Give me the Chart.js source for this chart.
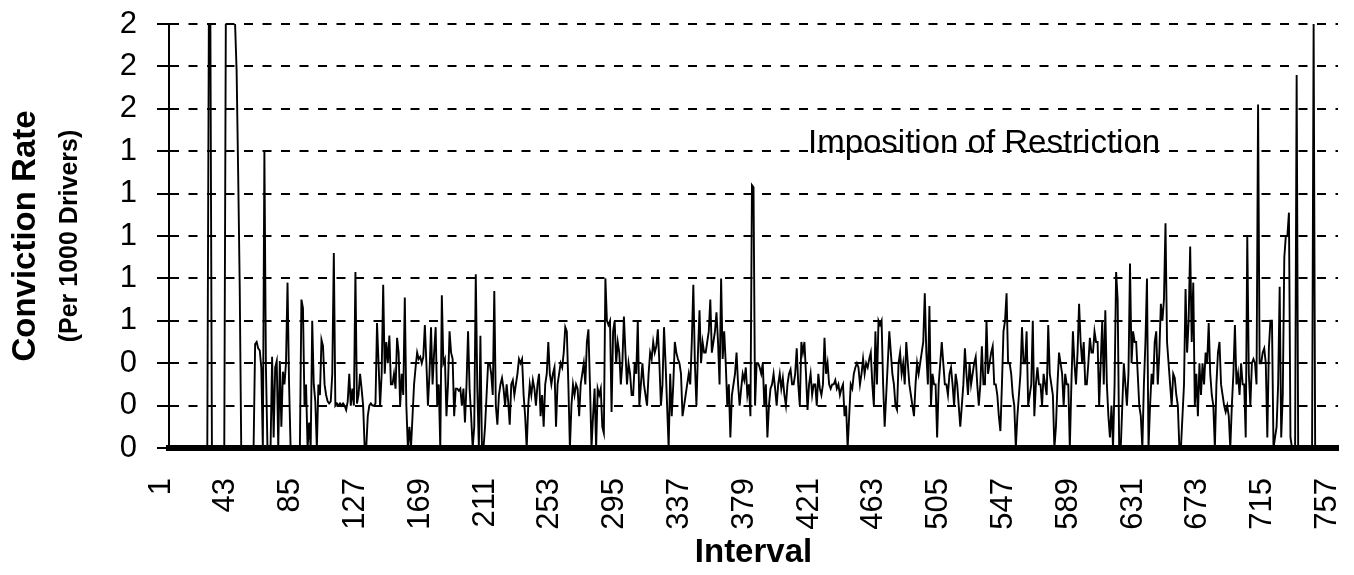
<!DOCTYPE html>
<html>
<head>
<meta charset="utf-8">
<script src="https://cdn.jsdelivr.net/npm/chart.js@4"></script>
<style>
  html, body { margin: 0; padding: 0; background: #fff; }
  canvas { display: block; }
</style>
</head>
<body>
<canvas id="c" width="1354" height="575"></canvas>
<script>
// ---- data ----
const firstInterval = 1;
const xTickLabels = [1, 43, 85, 127, 169, 211, 253, 295, 337, 379, 421, 463, 505, 547, 589, 631, 673, 715, 757];
const yTickValues = [0, 0.2, 0.4, 0.6, 0.8, 1.0, 1.2, 1.4, 1.6, 1.8, 2.0];
const yTickLabels = ['0', '0', '0', '1', '1', '1', '1', '1', '2', '2', '2'];
const convictionRates = [
  0,0,0,0,0,0,0,0,0,0,
  0,0,0,0,0,0,0,0,0,0,
  0,0,0,0,0,0,0,0,0,0,
  0,2,2,0,0,0,0,0,0,0,
  0,0,2,2,2,2,2,2,2,1.78,
  1.3,0.77,0,0,0,0,0,0,0,0,
  0,0.49,0.5,0.47,0.46,0.38,0,1.4,0.38,0,
  0,0,0.43,0.05,0.38,0.41,0,0.41,0.1,0.36,
  0.3,0.4,0.78,0.3,0,0,0,0,0,0,
  0,0.7,0.66,0.2,0.3,0,0.12,0,0.6,0.3,
  0.22,0,0.3,0.25,0.51,0.48,0.3,0.25,0.22,0.21,
  0.22,0.35,0.92,0.2,0.21,0.2,0.21,0.2,0.21,0.2,
  0.18,0.22,0.35,0.2,0.28,0.2,0.83,0.21,0.25,0.35,
  0.28,0.2,0,0,0.15,0.2,0.21,0.2,0.2,0.21,
  0.59,0.4,0.2,0.35,0.77,0.35,0.5,0.4,0.53,0.3,
  0.3,0.35,0.28,0.52,0.45,0.2,0.35,0.25,0.71,0.2,
  0,0.1,0,0.15,0.3,0.38,0.45,0.42,0.43,0.4,
  0.43,0.58,0.4,0.2,0.35,0.57,0.3,0.45,0.57,0.2,
  0.3,0,0.72,0.4,0.42,0.15,0.3,0.55,0.45,0.42,
  0.15,0.28,0.28,0.27,0.28,0.2,0.28,0.12,0.3,0.55,
  0.28,0.15,0,0.1,0.82,0.28,0,0.53,0,0,
  0.1,0.25,0.4,0.4,0.35,0.25,0.74,0.2,0.11,0.25,
  0.3,0.33,0.28,0.2,0.3,0.22,0.11,0.3,0.32,0.25,
  0.3,0.35,0.42,0.4,0.42,0.25,0.15,0,0.2,0.3,
  0.25,0.32,0.28,0.2,0.3,0.35,0.15,0.25,0.1,0.3,
  0.35,0.5,0.35,0.3,0.35,0.38,0.1,0.3,0.35,0.4,
  0.38,0.45,0.57,0.55,0.3,0,0.2,0.3,0.25,0.3,
  0.28,0.15,0.3,0.35,0.4,0.3,0.5,0.56,0.3,0,
  0.15,0.28,0,0.28,0.25,0.28,0.1,0.07,0.8,0.6,
  0.58,0.6,0.17,0.55,0.6,0.4,0.5,0.45,0.3,0.4,
  0.62,0.45,0.3,0.4,0.35,0.25,0.25,0.4,0.35,0.6,
  0.2,0.3,0.4,0.3,0.25,0.2,0.35,0.45,0.42,0.5,
  0.45,0.48,0.56,0.4,0.2,0.3,0.57,0.4,0.2,0,
  0.35,0.15,0.3,0.5,0.45,0.42,0.4,0.35,0.15,0.2,
  0.25,0.3,0.35,0.3,0.5,0.77,0.4,0.2,0.45,0.65,
  0.4,0.5,0.45,0.45,0.5,0.55,0.7,0.45,0.5,0.55,
  0.64,0.5,0.3,0.8,0.42,0.55,0.4,0.2,0.3,0.05,
  0.25,0.3,0.35,0.45,0.3,0.2,0.28,0.35,0.32,0.38,
  0.25,0.3,0.15,1.24,1.23,0.2,0.4,0.4,0.38,0.35,
  0.4,0.2,0.3,0.05,0.2,0.28,0.3,0.35,0.28,0.2,
  0.3,0.35,0.28,0.33,0.25,0.2,0.3,0.35,0.37,0.3,
  0.3,0.35,0.47,0.3,0.2,0.5,0.45,0.5,0.35,0.18,
  0.3,0.35,0.25,0.3,0.3,0.2,0.35,0.28,0.25,0.3,
  0.52,0.35,0.4,0.3,0.28,0.3,0.3,0.32,0.28,0.3,
  0.25,0.28,0.3,0.15,0.2,0,0.15,0.3,0.28,0.35,
  0.38,0.4,0.38,0.3,0.35,0.42,0.35,0.4,0.38,0.42,
  0.45,0.3,0.2,0.55,0.3,0.6,0.58,0.6,0.3,0.1,
  0.25,0.4,0.55,0.45,0.35,0.3,0.2,0.18,0.4,0.45,
  0.35,0.4,0.3,0.5,0.4,0.3,0.25,0.2,0.15,0.3,
  0.4,0.35,0.4,0.45,0.5,0.73,0.45,0.3,0.67,0.2,
  0.35,0.3,0.3,0.05,0.3,0.4,0.5,0.4,0.3,0.3,
  0.25,0.35,0.38,0.3,0.2,0.35,0.3,0.2,0.1,0.2,
  0.3,0.47,0.35,0.25,0.4,0.3,0.35,0.4,0.43,0.3,
  0.2,0.3,0.48,0.3,0.3,0.6,0.35,0.4,0.45,0.48,
  0.3,0.3,0.25,0.15,0.08,0.3,0.55,0.6,0.73,0.4,
  0.4,0.35,0.25,0.2,0,0.15,0.25,0.35,0.57,0.4,
  0.4,0.55,0.2,0.25,0.3,0.6,0.15,0.3,0.38,0.3,
  0.3,0.2,0.35,0.3,0.25,0.58,0.35,0.3,0.25,0,
  0.1,0.3,0.45,0.4,0.35,0.2,0.35,0.3,0.3,0,
  0.3,0.55,0.4,0.3,0.45,0.68,0.5,0.4,0.5,0.3,
  0.3,0.4,0.52,0.45,0.45,0.55,0.5,0.5,0.2,0.4,
  0.6,0.3,0.65,0.3,0.15,0.05,0.2,0,0.3,0.83,
  0.7,0,0,0.2,0.4,0.3,0.2,0.35,0.87,0.4,
  0.55,0.5,0.5,0.35,0.2,0.15,0,0.3,0.5,0.8,
  0,0.2,0.35,0.3,0.5,0.55,0.3,0.45,0.68,0.6,
  0.7,1.06,0.5,0.4,0.3,0.2,0.35,0.33,0.25,0.2,
  0,0,0.15,0.3,0.75,0.45,0.6,0.95,0.5,0.78,
  0.2,0.35,0.15,0.4,0.25,0.4,0.3,0.45,0.4,0.59,
  0.35,0.25,0.2,0,0.3,0.45,0.5,0.3,0.25,0.2,
  0.17,0.2,0.15,0,0.2,0.35,0.58,0.3,0.35,0.25,
  0.4,0.3,0.3,0.05,1.0,0.35,0.2,0.4,0.42,0.4,
  0.3,1.62,0.4,0.4,0.45,0.47,0.4,0.05,0.47,0.6,
  0.6,0,0.05,0.1,0.3,0.76,0.05,0.25,0.9,1.0,
  1.0,1.11,0.05,0,0,0,1.76,0,0,0,
  0,0,0,0,0,0,0,2,0,0,
  0,0,0,0,0,0,0,0,0,0,
  0,0,0
];
const noteText = 'Imposition of Restriction';

// ---- chart ----
Chart.defaults.font.family = "'Liberation Sans', Arial, sans-serif";
Chart.defaults.color = '#000';

const notePlugin = {
  id: 'restrictionNote',
  afterDatasetsDraw(chart, args, opts) {
    const {ctx, scales} = chart;
    ctx.save();
    ctx.font = opts.font;
    ctx.fillStyle = opts.color;
    ctx.textAlign = 'left';
    ctx.textBaseline = 'alphabetic';
    ctx.fillText(opts.text, scales.x.getPixelForValue(opts.xValue), scales.y.getPixelForValue(opts.yValue));
    ctx.restore();
  }
};

new Chart(document.getElementById('c'), {
  type: 'line',
  data: {
    datasets: [{
      label: 'Conviction Rate',
      data: convictionRates.map((v, i) => ({x: firstInterval + i, y: v})),
      borderColor: '#000',
      borderWidth: 1.9,
      pointRadius: 0,
      tension: 0,
      fill: false
    }]
  },
  options: {
    responsive: false,
    animation: false,
    devicePixelRatio: 1,
    layout: { autoPadding: false, padding: { top: 24, right: 16, left: 0, bottom: 0 } },
    plugins: {
      legend: { display: false },
      tooltip: { enabled: false },
      restrictionNote: { text: noteText, xValue: 420.3, yValue: 1.392, font: "33px 'Liberation Sans', Arial, sans-serif", color: '#000' }
    },
    scales: {
      x: {
        type: 'linear',
        position: 'bottom',
        min: 6.18,
        max: 763.8,
        afterBuildTicks: s => { s.ticks = xTickLabels.map(v => ({value: v})); },
        afterFit: s => { s.height = 127; s.paddingLeft = 0; s.paddingRight = 0; },
        grid: { display: false },
        border: { display: true, color: '#000', width: 6 },
        ticks: {
          autoSkip: false, minRotation: 90, maxRotation: 90, padding: 22,
          font: { size: 31 }, color: '#000',
          callback: v => String(v)
        },
        title: { display: true, text: 'Interval', font: { size: 33, weight: 'bold' }, color: '#000', padding: { top: 0, bottom: 2 } }
      },
      y: {
        type: 'linear',
        position: 'left',
        weight: 1,
        min: 0,
        max: 2,
        afterBuildTicks: s => { s.ticks = yTickValues.map(v => ({value: v})); },
        afterFit: s => { s.width = 119; s.paddingTop = 0; s.paddingBottom = 0; },
        grid: { color: '#000', lineWidth: 2, drawTicks: true, tickLength: 12, tickColor: '#000', tickWidth: 2, tickBorderDash: [] },
        border: { display: true, color: '#000', width: 2, dash: [9, 9.5], dashOffset: 0 },
        ticks: {
          padding: 20, font: { size: 31 }, color: '#000',
          callback: (v, i) => yTickLabels[i]
        },
        title: { display: true, text: '(Per 1000 Drivers)', font: { size: 25, weight: 'bold' }, color: '#000', padding: { top: 5, bottom: 0 } }
      },
      yTitle: {
        type: 'linear',
        position: 'left',
        weight: 10,
        min: 0,
        max: 1,
        afterFit: s => { s.width = 50; s.paddingTop = 0; s.paddingBottom = 0; },
        grid: { display: false, drawTicks: false },
        border: { display: false },
        ticks: { display: false },
        title: { display: true, text: 'Conviction Rate', font: { size: 33, weight: 'bold' }, color: '#000', padding: { top: 6, bottom: 0 } }
      }
    }
  },
  plugins: [notePlugin]
});
</script>
</body>
</html>
